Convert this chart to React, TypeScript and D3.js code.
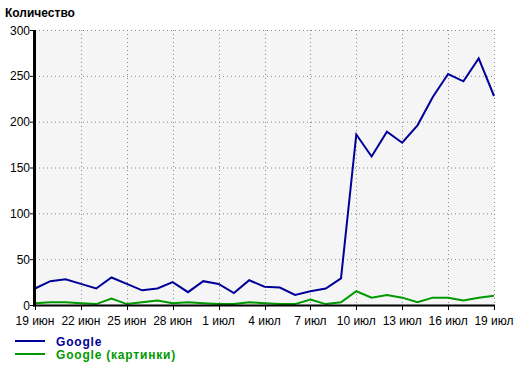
import { useEffect, useRef } from "react";
import * as d3 from "d3";

// 19 июн .. 19 июл, one value per day
const days = d3.range(31);
const tickLabels = ["19 июн", "22 июн", "25 июн", "28 июн", "1 июл", "4 июл", "7 июл", "10 июл", "13 июл", "16 июл", "19 июл"];
const yTicks = [0, 50, 100, 150, 200, 250, 300];

const google = [18, 26, 28, 23, 18, 30, 23, 16, 18, 25, 14, 26, 23, 13, 27, 20, 19, 11, 15, 18, 29,
  186, 162, 189, 177, 196, 227, 252, 244, 269, 228];
const googleImages = [2, 3, 3, 2, 1, 7, 1, 3, 5, 2, 3, 2, 1, 1, 3, 2, 1, 1, 6, 1, 3,
  15, 8, 11, 8, 3, 8, 8, 5, 8, 10];

const series = [
  { name: "Google", values: google, color: "#000099" },
  { name: "Google (картинки)", values: googleImages, color: "#009900" },
];

export default function App() {
  const ref = useRef<SVGSVGElement>(null);
  const width = 520;
  const height = 366;
  const margin = { top: 30, right: 26, bottom: 61, left: 35 };

  useEffect(() => {
    const svg = d3.select(ref.current);
    svg.selectAll("*").remove();

    const x = d3.scaleLinear().domain([0, 30]).range([margin.left, width - margin.right]);
    const y = d3.scaleLinear().domain([0, 300]).range([height - margin.bottom, margin.top]);
    const font = "'Liberation Sans', Arial, sans-serif";

    // plot background
    svg.append("rect")
      .attr("x", x(0)).attr("y", y(300))
      .attr("width", x(30) - x(0)).attr("height", y(0) - y(300))
      .attr("fill", "#f5f5f5");

    // grid
    const grid = svg.append("g").attr("stroke", "#888").attr("stroke-dasharray", "1,3");
    grid.selectAll("line.h").data(yTicks.filter(d => d > 0)).enter().append("line")
      .attr("x1", x(0)).attr("x2", x(30))
      .attr("y1", d => y(d) + 0.5).attr("y2", d => y(d) + 0.5);
    grid.selectAll("line.v").data(tickLabels.map((_, i) => i * 3).filter(d => d > 0)).enter().append("line")
      .attr("x1", d => Math.round(x(d)) + 0.5).attr("x2", d => Math.round(x(d)) + 0.5)
      .attr("y1", y(300)).attr("y2", y(0));

    // lines
    const line = d3.line<number>().x((_, i) => x(days[i])).y(d => y(d));
    series.slice().reverse().forEach(s => {
      svg.append("path")
        .attr("d", line(s.values))
        .attr("fill", "none")
        .attr("stroke", s.color)
        .attr("stroke-width", 2);
    });

    // axes
    svg.append("line").attr("x1", x(0) - 0.5).attr("x2", x(0) - 0.5)
      .attr("y1", y(300)).attr("y2", y(0) + 1.5).attr("stroke", "#000").attr("stroke-width", 3);
    svg.append("line").attr("x1", x(0) - 2).attr("x2", x(30) + 1)
      .attr("y1", y(0) + 0.5).attr("y2", y(0) + 0.5).attr("stroke", "#000").attr("stroke-width", 2);

    // y ticks
    const yg = svg.append("g");
    yg.selectAll("line").data(yTicks).enter().append("line")
      .attr("x1", x(0) - 5).attr("x2", x(0)).attr("y1", d => y(d) + 0.5).attr("y2", d => y(d) + 0.5)
      .attr("stroke", "#000");
    yg.selectAll("text").data(yTicks).enter().append("text")
      .attr("x", x(0) - 5).attr("y", d => y(d) + 4.5)
      .attr("text-anchor", "end").attr("font-family", font).attr("font-size", 12)
      .text(d => d);

    // x ticks
    const xg = svg.append("g");
    xg.selectAll("line").data(tickLabels).enter().append("line")
      .attr("x1", (_, i) => Math.round(x(i * 3)) + 0.5).attr("x2", (_, i) => Math.round(x(i * 3)) + 0.5)
      .attr("y1", y(0)).attr("y2", y(0) + 5).attr("stroke", "#000");
    xg.selectAll("text").data(tickLabels).enter().append("text")
      .attr("x", (_, i) => x(i * 3)).attr("y", y(0) + 20)
      .attr("text-anchor", "middle").attr("font-family", font).attr("font-size", 12)
      .text(d => d);

    // title
    svg.append("text").attr("x", 5).attr("y", 17)
      .attr("font-family", font).attr("font-size", 12).attr("font-weight", "bold")
      .text("Количество");

    // legend
    const lg = svg.append("g");
    series.forEach((s, i) => {
      const ly = 341 + i * 13;
      lg.append("line").attr("x1", 15).attr("x2", 45).attr("y1", ly).attr("y2", ly)
        .attr("stroke", s.color).attr("stroke-width", 2);
      lg.append("text").attr("x", 56).attr("y", ly + 5)
        .attr("font-family", font).attr("font-size", 12).attr("font-weight", "bold")
        .attr("letter-spacing", 0.8)
        .attr("fill", s.color).text(s.name);
    });
  }, []);

  return (
    <svg ref={ref} width={width} height={height}
      style={{ position: "absolute", left: 0, top: 0, background: "#fff" }} />
  );
}
